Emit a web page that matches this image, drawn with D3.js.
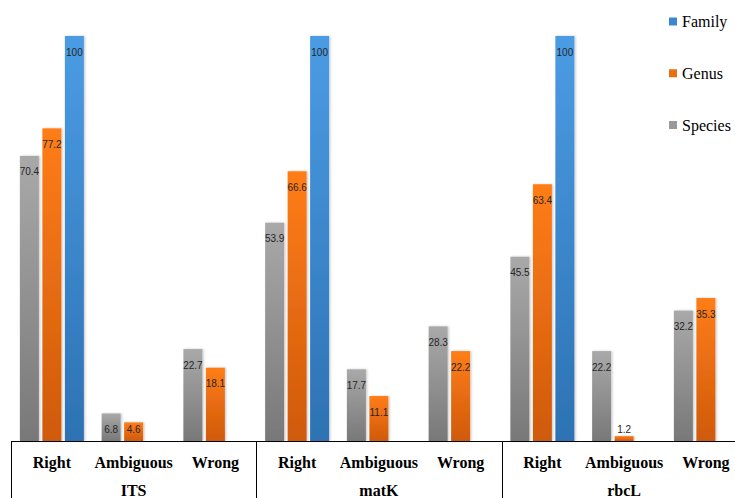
<!DOCTYPE html>
<html>
<head>
<meta charset="utf-8">
<script src="https://cdn.jsdelivr.net/npm/d3@7"></script>
<style>
  html, body { margin: 0; padding: 0; background: #fff; }
  svg { display: block; }
</style>
</head>
<body>
<svg id="chart" width="735" height="498"></svg>
<script>
// Identification success per barcode marker (%), by taxonomic rank
const markers = ["ITS", "matK", "rbcL"];
const outcomes = ["Right", "Ambiguous", "Wrong"];
const ranks = ["Species", "Genus", "Family"];
const legendOrder = ["Family", "Genus", "Species"];

// values listed marker by marker, outcome by outcome
const speciesValues = [70.4, 6.8, 22.7, 53.9, 17.7, 28.3, 45.5, 22.2, 32.2];
const genusValues   = [77.2, 4.6, 18.1, 66.6, 11.1, 22.2, 63.4, 1.2, 35.3];
const familyValues  = [100, null, null, 100, null, null, 100, null, null];

const valuesByRank = { Species: speciesValues, Genus: genusValues, Family: familyValues };

const colors = {
  Species: { top: "#a9a9a9", bottom: "#787878", key: "#9a9a9a" },
  Genus:   { top: "#ff7d17", bottom: "#cf5a0d", key: "#e8700f" },
  Family:  { top: "#4b9ce4", bottom: "#2d72b3", key: "#3d87d2" }
};

const SERIF = "Liberation Serif";
const SANS = "Liberation Sans";

const svg = d3.select("#chart");
const baseY = 441;
const step = 81.75;
const left = 11;

// one band per marker/outcome pair
const cells = [];
markers.forEach(m => outcomes.forEach(o => cells.push(m + "|" + o)));

const x0 = d3.scaleBand().domain(cells).range([left, left + step * cells.length]).padding(0);
const x1 = d3.scaleBand().domain(ranks).range([0, x0.bandwidth()])
  .paddingInner(0.1556).paddingOuter(0.395);
const y = d3.scaleLinear().domain([0, 100]).range([baseY, 36]);

// gradients and soft shadow
const defs = svg.append("defs");
ranks.forEach(r => {
  const g = defs.append("linearGradient").attr("id", "grad-" + r)
    .attr("x1", 0).attr("y1", 0).attr("x2", 0).attr("y2", 1);
  g.append("stop").attr("offset", "0%").attr("stop-color", colors[r].top);
  g.append("stop").attr("offset", "100%").attr("stop-color", colors[r].bottom);
});
const sh = defs.append("filter").attr("id", "shadow")
  .attr("x", "-20%").attr("y", "-5%").attr("width", "150%").attr("height", "110%");
sh.append("feDropShadow").attr("dx", 1.2).attr("dy", 0).attr("stdDeviation", 0.8)
  .attr("flood-color", "#000").attr("flood-opacity", 0.22);

// bars
const barData = [];
cells.forEach((c, i) => {
  ranks.forEach(r => {
    const v = valuesByRank[r][i];
    if (v !== null && v !== undefined) barData.push({ cell: c, rank: r, value: v });
  });
});

svg.append("g").selectAll("rect").data(barData).join("rect")
  .attr("x", d => x0(d.cell) + x1(d.rank))
  .attr("y", d => y(d.value))
  .attr("width", x1.bandwidth())
  .attr("height", d => baseY - y(d.value))
  .attr("fill", d => "url(#grad-" + d.rank + ")")
  .attr("filter", "url(#shadow)");

// value labels near the top of each bar
svg.append("g").selectAll("text").data(barData).join("text")
  .style("font-family", SANS)
  .attr("x", d => x0(d.cell) + x1(d.rank) + x1.bandwidth() / 2)
  .attr("y", d => Math.min(y(d.value) + 16, baseY - 12))
  .attr("dy", "0.35em")
  .attr("text-anchor", "middle")
  .attr("font-size", 10)
  .attr("fill", "#262626")
  .text(d => d.value);

// category axis: baseline, outcome labels, marker labels and separators
const axis = svg.append("g");
axis.append("line")
  .attr("x1", left).attr("x2", 735)
  .attr("y1", baseY + 0.5).attr("y2", baseY + 0.5)
  .attr("stroke", "#000").attr("stroke-width", 1);

[0, 3, 6].forEach(i => {
  const xx = Math.round(x0(cells[i])) + 0.5;
  axis.append("line")
    .attr("x1", xx).attr("x2", xx)
    .attr("y1", baseY).attr("y2", 498)
    .attr("stroke", "#000").attr("stroke-width", 1);
});

axis.selectAll("text.outcome").data(cells).join("text")
  .attr("class", "outcome")
  .style("font-family", SERIF)
  .attr("x", d => x0(d) + x0.bandwidth() / 2)
  .attr("y", 468)
  .attr("text-anchor", "middle")
  .attr("font-weight", "bold")
  .attr("font-size", 16)
  .attr("fill", "#000")
  .text(d => d.split("|")[1]);

axis.selectAll("text.marker").data(markers).join("text")
  .attr("class", "marker")
  .style("font-family", SERIF)
  .attr("x", (m, i) => (x0(cells[i * 3]) + x0(cells[i * 3 + 2]) + x0.bandwidth()) / 2)
  .attr("y", 496)
  .attr("text-anchor", "middle")
  .attr("font-weight", "bold")
  .attr("font-size", 16)
  .attr("fill", "#000")
  .text(d => d);

// legend
const legend = svg.append("g");
const ly = d3.scalePoint().domain(legendOrder).range([21.5, 125]);
legendOrder.forEach(r => {
  legend.append("rect")
    .attr("x", 669).attr("y", ly(r) - 4)
    .attr("width", 8).attr("height", 8)
    .attr("fill", colors[r].key);
  legend.append("text")
    .style("font-family", SERIF)
    .attr("x", 682).attr("y", ly(r))
    .attr("dy", "0.35em")
    .attr("font-size", 16)
    .attr("fill", "#000")
    .text(r);
});
</script>
</body>
</html>
